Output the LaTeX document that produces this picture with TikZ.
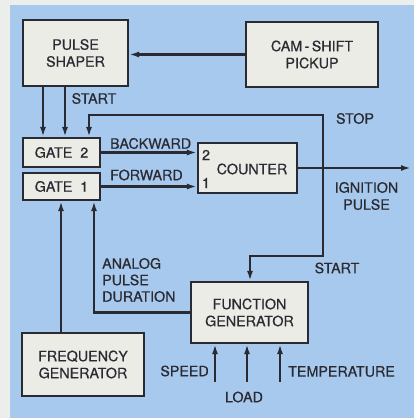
\documentclass[tikz,border=0pt]{standalone}
\usepackage{fontspec}
\setmainfont{TeX Gyre Heros}[FakeBold=0.5]
\usetikzlibrary{arrows.meta}
\definecolor{panel}{HTML}{A8C9EE}
\definecolor{boxfill}{HTML}{ECECE6}
\definecolor{ink}{HTML}{2A2A32}
\definecolor{paper}{HTML}{ECEEEC}
\newcommand\dlbl{\fontsize{14.3}{17}\selectfont}
\begin{document}
\begin{tikzpicture}[x=1pt,y=-1pt,
  blk/.style={draw=ink, fill=boxfill, line width=2.2pt, inner sep=0pt, align=center, font=\dlbl, text=ink},
  lab/.style={font=\dlbl, text=ink, inner sep=0pt},
  conn/.style={draw=ink, line width=2.2pt, -{Latex[length=10pt,width=6pt]}},
  conn2/.style={draw=ink, line width=2.2pt, {Latex[length=10pt,width=6pt]}-{Latex[length=10pt,width=6pt]}}]
\useasboundingbox (0,0) rectangle (414,418);
\fill[paper] (0,0) rectangle (414,418);
\fill[panel] (10,5) rectangle (414,418);

% blocks
\node[blk, minimum width=105pt, minimum height=66pt] (ps) at (75.5,53) {PULSE\\SHAPER};
\node[blk, minimum width=132pt, minimum height=65pt] (cam) at (312,54.5) {CAM\,-\,SHIFT\\PICKUP};
\node[blk, minimum width=77pt, minimum height=29pt] (g2) at (61.5,152.5) {GATE\ \ 2};
\node[blk, minimum width=77pt, minimum height=27pt] (g1) at (61.5,186.5) {GATE\ \ 1};
\node[blk, minimum width=99pt, minimum height=50pt] (cnt) at (247.5,168) {};
\node[lab] (cntt) at (252,169) {COUNTER};
\node[lab] (c2) at (206,155) {2};
\node[lab] (c1) at (206,183) {1};
\node[blk, minimum width=117pt, minimum height=61pt] (fg) at (249.5,312.5) {FUNCTION\\GENERATOR};
\node[blk, minimum width=122pt, minimum height=63pt] (freq) at (83,364.5) {FREQUENCY\\GENERATOR};

% coordinates
\coordinate (s1) at (89,115);
\coordinate (s2) at (323,115);
\coordinate (s3) at (323,256);
\coordinate (s4) at (250,256);
\coordinate (ign) at (411,168);
\coordinate (a1) at (94,312.5);
\coordinate (in1) at (215,382);
\coordinate (in2) at (247,382);
\coordinate (in3) at (280,382);

% connectors
\draw[conn] (cam.west) -- (cam.west -| ps.east);
\draw[conn] ([xshift=-32.5pt]ps.south) -- ([xshift=-32.5pt]ps.south |- g2.north);
\draw[conn] ([xshift=-10.5pt]ps.south) -- ([xshift=-10.5pt]ps.south |- g2.north);
\draw[conn2] (g2.north -| s1) -- (s1) -- (s2) -- (s3) -- (s4) -- (fg.north -| s4);
\draw[conn] (g2.east) -- (g2.east -| cnt.west);
\draw[conn] (g1.east) -- (g1.east -| cnt.west);
\draw[conn] (cnt.east) -- (ign);
\draw[conn] ([xshift=-22pt]freq.north) -- ([xshift=-22pt]freq.north |- g1.south);
\draw[conn] (fg.west) -- (a1) -- (a1 |- g1.south);
\draw[conn] (in1) -- (in1 |- fg.south);
\draw[conn] (in2) -- (in2 |- fg.south);
\draw[conn] (in3) -- (in3 |- fg.south);

% labels
\node[lab] (lstart1) at (94,98.5) {START};
\node[lab] (lstop) at (355,118.5) {STOP};
\node[lab, anchor=west] (lback) at (110,143.5) {BACKWARD};
\node[lab, anchor=west] (lfwd) at (110,175) {FORWARD};
\node[lab, align=center] (lign) at (366.5,196) {IGNITION\\PULSE};
\node[lab, align=left, anchor=west, font=\fontsize{14.3}{16.5}\selectfont] (lapd) at (102,280) {ANALOG\\PULSE\\DURATION};
\node[lab] (lstart2) at (337,268) {START};
\node[lab, anchor=east] (lspeed) at (209,371) {SPEED};
\node[lab] (lload) at (244,397) {LOAD};
\node[lab, anchor=west] (ltemp) at (288,371.5) {TEMPERATURE};
\end{tikzpicture}
\end{document}
